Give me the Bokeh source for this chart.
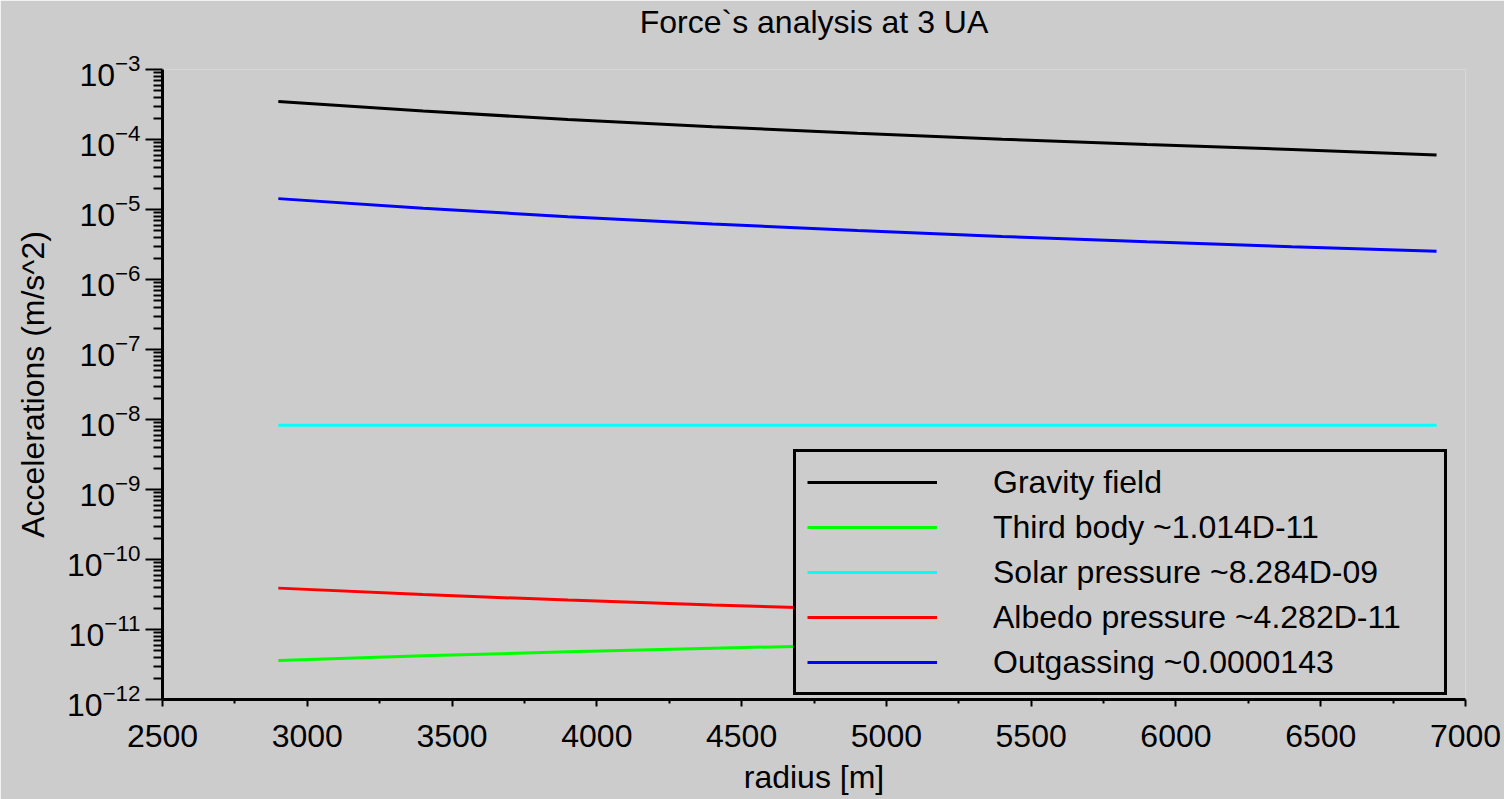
from bokeh.plotting import figure
from bokeh.models import FixedTicker, Legend, LegendItem, Range1d
from bokeh.embed import file_html
from bokeh.resources import INLINE

# ---- data ----
radius = [2900, 3400, 3900, 4400, 4900, 5400, 5900, 6400, 6900]
gravity = [3.5e-4, 2.55e-4, 1.93e-4, 1.52e-4, 1.23e-4, 1.01e-4, 8.5e-5, 7.2e-5, 6.0e-5]
third_body = [3.6e-12, 4.2e-12, 4.8e-12, 5.4e-12, 6.0e-12, 6.6e-12, 7.2e-12, 7.9e-12, 8.5e-12]
solar = [8.284e-9, 8.284e-9, 8.284e-9, 8.284e-9, 8.284e-9, 8.284e-9, 8.284e-9, 8.284e-9, 8.284e-9]
albedo = [3.9e-11, 3.15e-11, 2.63e-11, 2.24e-11, 1.94e-11, 1.71e-11, 1.52e-11, 1.36e-11, 1.23e-11]
outgassing = [1.43e-5, 1.04e-5, 7.9e-6, 6.2e-6, 5.0e-6, 4.12e-6, 3.46e-6, 2.94e-6, 2.53e-6]

series_names = ["Gravity field", "Third body ~1.014D-11", "Solar pressure ~8.284D-09",
                "Albedo pressure ~4.282D-11", "Outgassing ~0.0000143"]
series_colors = ["#000000", "#00ff00", "#00ffff", "#ff0000", "#0000ff"]
series_values = [gravity, third_body, solar, albedo, outgassing]

x_ticks = [2500, 3000, 3500, 4000, 4500, 5000, 5500, 6000, 6500, 7000]
x_minor = [2750, 3250, 3750, 4250, 4750, 5250, 5750, 6250, 6750]
y_exponents = [-3, -4, -5, -6, -7, -8, -9, -10, -11, -12]

FONT = "Liberation Sans"
BG = "#cccccc"

p = figure(width=1504, height=799, y_axis_type="log",
           x_range=Range1d(2500, 7000), y_range=Range1d(1e-12, 1e-3),
           output_backend="svg", toolbar_location=None,
           title="Force`s analysis at 3 UA",
           x_axis_label="radius [m]", y_axis_label="Accelerations (m/s^2)",
           min_border_left=162, min_border_right=39,
           min_border_top=68, min_border_bottom=100)

p.background_fill_color = BG
p.border_fill_color = BG
p.outline_line_color = None
p.grid.visible = False

p.title.text_font = FONT
p.title.text_font_size = "32px"
p.title.text_font_style = "normal"
p.title.align = "center"
p.title.vertical_align = "top"
p.title.text_color = "black"
p.title.standoff = 7
try:
    p.title.padding = dict(left=0, right=0, top=0, bottom=24)
except Exception:
    pass

# x axis
xa = p.xaxis[0]
xa.ticker = FixedTicker(ticks=x_ticks, minor_ticks=x_minor)
xa.axis_line_width = 3
xa.axis_line_color = "black"
xa.major_tick_line_width = 2
xa.minor_tick_line_width = 2
xa.major_tick_out = 7
xa.major_tick_in = 0
xa.minor_tick_out = 4
xa.minor_tick_in = 0
xa.major_label_text_font = FONT
xa.major_label_text_font_size = "32px"
xa.major_label_text_color = "black"
xa.major_label_standoff = 18
xa.axis_label_text_font = FONT
xa.axis_label_text_font_size = "32px"
xa.axis_label_text_font_style = "normal"
xa.axis_label_text_color = "black"
xa.axis_label_standoff = 9

# y axis (log, labels as 10 with exponent)
minor_y = []
for e in y_exponents[1:]:
    for m in range(2, 10):
        minor_y.append(m * 10.0 ** e)
ya = p.yaxis[0]
ya.ticker = FixedTicker(ticks=[10.0 ** e for e in y_exponents], minor_ticks=minor_y)
ya.axis_line_width = 3
ya.axis_line_color = "black"
ya.major_tick_line_width = 2
ya.minor_tick_line_width = 2
ya.major_tick_out = 17
ya.major_tick_in = 0
ya.minor_tick_out = 9
ya.minor_tick_in = 0
ya.major_label_text_font = FONT
ya.major_label_text_font_size = "32px"
ya.major_label_text_color = "black"
ya.major_label_standoff = 5
ya.axis_label_text_font = FONT
ya.axis_label_text_font_size = "32px"
ya.axis_label_text_font_style = "normal"
ya.axis_label_text_color = "black"
ya.axis_label_standoff = 13

items = []
for name, color, vals in zip(series_names, series_colors, series_values):
    r = p.line(radius, vals, line_color=color, line_width=3)
    items.append(LegendItem(label=name, renderers=[r]))

legend = Legend(items=items, location=(631, 4))
legend.background_fill_color = BG
legend.background_fill_alpha = 1.0
legend.border_line_color = "black"
legend.border_line_alpha = 1.0
legend.border_line_width = 3
legend.padding = 11
legend.margin = 0
legend.spacing = 7
legend.glyph_width = 130
legend.glyph_height = 38
legend.label_height = 38
legend.label_width = 440
legend.label_standoff = 56
legend.label_text_font = FONT
legend.label_text_font_size = "32px"
legend.label_text_color = "black"
p.add_layout(legend)

open("out.html", "w").write(file_html(p, INLINE))
